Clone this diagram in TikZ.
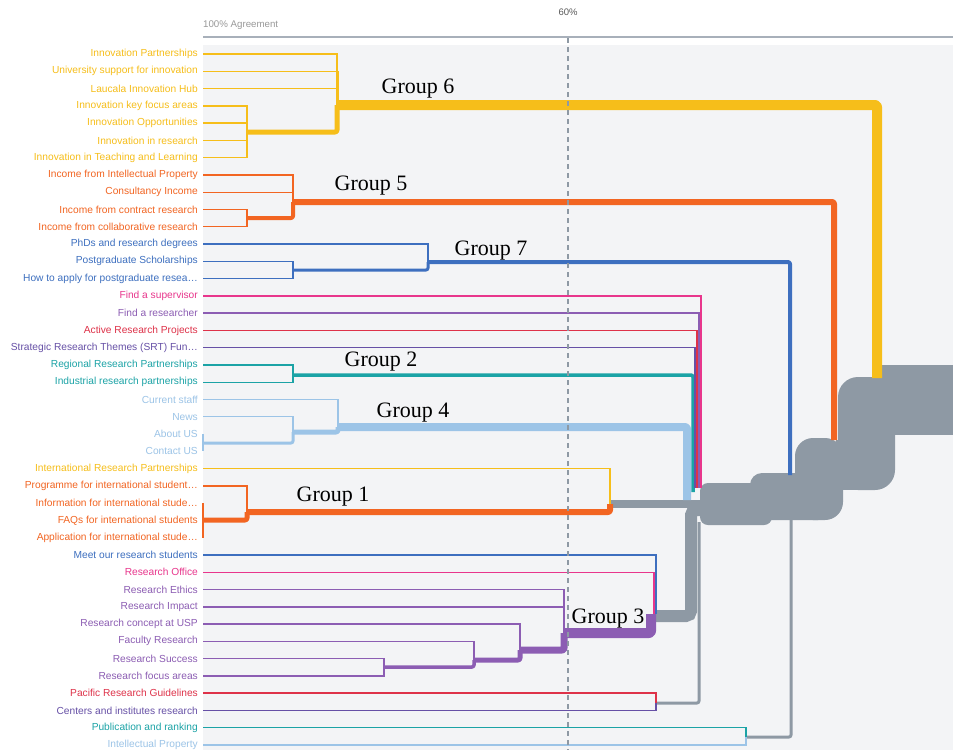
\documentclass[tikz,border=0pt]{standalone}
\usepackage{fontspec}
\setmainfont{Liberation Serif}
\setsansfont{Liberation Sans}
\usetikzlibrary{calc}
\definecolor{gyel}{HTML}{F6BE1A}
\definecolor{gorg}{HTML}{F26522}
\definecolor{gblu}{HTML}{3D6FBF}
\definecolor{gpnk}{HTML}{E8368C}
\definecolor{gpur}{HTML}{8C5DB3}
\definecolor{gred}{HTML}{DE3249}
\definecolor{gind}{HTML}{6650A6}
\definecolor{gtea}{HTML}{1BA3A6}
\definecolor{glbl}{HTML}{9CC4E7}
\definecolor{gry}{HTML}{8E99A4}
\definecolor{panel}{HTML}{F3F4F6}
\definecolor{axisc}{HTML}{A8B0BA}

\begin{document}
\begin{tikzpicture}[x=1pt, y=-1pt,
  leaf/.style={anchor=east, inner xsep=5pt, inner ysep=1pt, font=\sffamily\fontsize{10.2}{12}\selectfont},
  twig/.style={line width=1.4pt},
  lnk/.style={rounded corners=2pt, line join=round},
  grp/.style={inner sep=0pt, font=\fontsize{22}{24}\selectfont}]
  \useasboundingbox (0,0) rectangle (953,750);
  % panel and axis
  \fill[white] (0,0) rectangle (953,750);
  \fill[panel] (203,45) rectangle (953,750);
  \draw[axisc, line width=1.5pt] (203,37) -- (953,37);
  \node[anchor=west, inner sep=0pt, text=gray!80, font=\sffamily\fontsize{9.7}{11}\selectfont] (agree) at (203,25) {100\% Agreement};
  \node[inner sep=0pt, text=black!65, font=\sffamily\fontsize{9.5}{11}\selectfont] (sixty) at (568,12) {60\%};
  % leaves
  \foreach \i/\txt/\col in {
    1/Innovation Partnerships/gyel, 2/University support for innovation/gyel,
    3/Laucala Innovation Hub/gyel, 4/Innovation key focus areas/gyel,
    5/Innovation Opportunities/gyel, 6/Innovation in research/gyel,
    7/Innovation in Teaching and Learning/gyel, 8/Income from Intellectual Property/gorg,
    9/Consultancy Income/gorg, 10/Income from contract research/gorg,
    11/Income from collaborative research/gorg, 12/PhDs and research degrees/gblu,
    13/Postgraduate Scholarships/gblu, 14/How to apply for postgraduate resea\dots/gblu,
    15/Find a supervisor/gpnk, 16/Find a researcher/gpur,
    17/Active Research Projects/gred, 18/Strategic Research Themes (SRT) Fun\dots/gind,
    19/Regional Research Partnerships/gtea, 20/Industrial research partnerships/gtea,
    21/Current staff/glbl, 22/News/glbl, 23/About US/glbl, 24/Contact US/glbl,
    25/International Research Partnerships/gyel, 26/Programme for international student\dots/gorg,
    27/Information for international stude\dots/gorg, 28/FAQs for international students/gorg,
    29/Application for international stude\dots/gorg, 30/Meet our research students/gblu,
    31/Research Office/gpnk, 32/Research Ethics/gpur, 33/Research Impact/gpur,
    34/Research concept at USP/gpur, 35/Faculty Research/gpur, 36/Research Success/gpur,
    37/Research focus areas/gpur, 38/Pacific Research Guidelines/gred,
    39/Centers and institutes research/gind, 40/Publication and ranking/gtea,
    41/Intellectual Property/glbl}{
    \node[leaf, text=\col] (l\i) at (203,{54+(\i-1)*17.275}) {\txt};
  }
  % merge points
  \coordinate (g6a) at (247,132); \coordinate (g6b) at (337,71);
  \coordinate (g6c) at (337,105); \coordinate (f6) at (877,378);
  \coordinate (g5a) at (247,218); \coordinate (g5b) at (293,202);
  \coordinate (f5) at (834,440);
  \coordinate (g7a) at (293,270); \coordinate (g7b) at (428,262);
  \coordinate (f7) at (790,475);
  \coordinate (b15) at (701,488); \coordinate (b16) at (699,488);
  \coordinate (b17) at (697,488); \coordinate (b18) at (695,488);
  \coordinate (g2a) at (293,375); \coordinate (f2) at (693,492);
  \coordinate (g4a) at (204,443); \coordinate (g4b) at (293,432);
  \coordinate (g4c) at (338,427); \coordinate (f4) at (687,500);
  \coordinate (g1a) at (204,520); \coordinate (g1b) at (247,512);
  \coordinate (g1c) at (610,504); \coordinate (f1) at (703,504);
  \coordinate (g3a) at (384,667); \coordinate (g3b) at (474,660);
  \coordinate (g3c) at (520,650); \coordinate (g3d) at (564,598);
  \coordinate (g3e) at (564,633); \coordinate (g3f) at (651,614);
  \coordinate (g3g) at (656,614); \coordinate (g3h) at (654,614);
  \coordinate (t3) at (656,616); \coordinate (t3top) at (691,510);
  \coordinate (t3end) at (705,510);
  \coordinate (g8) at (656,703); \coordinate (t8) at (699,522);
  \coordinate (g9) at (746,737); \coordinate (t9) at (791,520);
  % grey trunk
  \fill[gry, rounded corners=8pt] (700,483) rectangle (772,525);
  \fill[gry, rounded corners=12pt] (750,473) rectangle (830,520);
  \fill[gry, rounded corners=18pt] (795,438) rectangle (843,520);
  \fill[gry, rounded corners=20pt] (838,377) rectangle (895,490);
  \fill[gry] (836,440) rectangle (862,490);
  \fill[gry] (880,365) rectangle (953,435);
  \draw[gry, line width=8pt] (g1c) -- (f1);
  \draw[gry, line width=12pt, rounded corners=5pt] (t3) -| (t3top) -- (t3end);
  \draw[gry, line width=3pt, lnk] (g8) -| (t8);
  \draw[gry, line width=3pt, lnk] (g9) -| (t9);
  % Group 6
  \foreach \i in {4,...,7} \draw[twig, gyel] (l\i.east) -| (g6a);
  \foreach \i in {1,2,3} \draw[twig, gyel] (l\i.east) -| (g6b);
  \draw[gyel, line width=3pt] (g6b) -- (g6c);
  \draw[gyel, line width=5pt, lnk] (g6a) -| (g6c);
  \draw[gyel, line width=10pt, lnk] (g6c) -| (f6);
  % Group 5
  \foreach \i in {10,11} \draw[twig, gorg] (l\i.east) -| (g5a);
  \foreach \i in {8,9} \draw[twig, gorg] (l\i.east) -| (g5b);
  \draw[gorg, line width=4pt, lnk] (g5a) -| (g5b);
  \draw[gorg, line width=6pt, lnk] (g5b) -| (f5);
  % Group 7
  \foreach \i in {13,14} \draw[twig, gblu] (l\i.east) -| (g7a);
  \draw[twig, gblu] (l12.east) -| (g7b);
  \draw[gblu, line width=3pt, lnk] (g7a) -| (g7b);
  \draw[gblu, line width=4pt, lnk] (g7b) -| (f7);
  % Group 4
  \draw[glbl, line width=2pt] (l23.east) -- (l24.east);
  \draw[glbl, line width=3pt, lnk] (g4a) -| (g4b);
  \draw[twig, glbl] (l22.east) -| (g4b);
  \draw[twig, glbl] (l21.east) -| (g4c);
  \draw[glbl, line width=5pt, lnk] (g4b) -| (g4c);
  \draw[glbl, line width=8pt, lnk] (g4c) -| (f4);
  % Group 2
  \foreach \i in {19,20} \draw[twig, gtea] (l\i.east) -| (g2a);
  \draw[gtea, line width=3.5pt, lnk] (g2a) -| (f2);
  % single leaves into the bundle
  \foreach \i/\c in {18/gind,17/gred,16/gpur,15/gpnk} \draw[twig, \c] (l\i.east) -| (b\i);
  % Group 1
  \draw[gorg, line width=2pt] (l27.east) -- (l29.east);
  \draw[twig, gorg] (l26.east) -| (g1b);
  \draw[twig, gyel] (l25.east) -| (g1c);
  \draw[gorg, line width=5pt, lnk] (g1a) -| (g1b);
  \draw[gorg, line width=6pt, lnk] (g1b) -| (g1c);
  % Group 3
  \foreach \i in {36,37} \draw[twig, gpur] (l\i.east) -| (g3a);
  \draw[twig, gpur] (l35.east) -| (g3b);
  \draw[twig, gpur] (l34.east) -| (g3c);
  \foreach \i in {32,33} \draw[twig, gpur] (l\i.east) -| (g3d);
  \draw[gpur, line width=3.5pt, lnk] (g3a) -| (g3b);
  \draw[gpur, line width=5pt, lnk] (g3b) -| (g3c);
  \draw[gpur, line width=2pt] (g3d) -- (g3e);
  \draw[gpur, line width=7pt, lnk] (g3c) -| (g3e);
  \draw[gpur, line width=10pt, lnk] (g3e) -| (g3f);
  \draw[twig, gblu] (l30.east) -| (g3g);
  \draw[twig, gpnk] (l31.east) -| (g3h);
  % last pairs
  \draw[twig, gred] (l38.east) -| (g8);
  \draw[twig, gind] (l39.east) -| (g8);
  \draw[twig, gtea] (l40.east) -| (g9);
  \draw[twig, glbl] (l41.east) -| (g9);
  % 60% cut
  \draw[gry, line width=1.5pt, dash pattern=on 5pt off 4pt] (sixty |- 0,38) -- (sixty |- 0,750);
  % group labels
  \node[grp] (n6) at (418,89) {Group 6};
  \node[grp] (n5) at (371,186) {Group 5};
  \node[grp] (n7) at (491,251) {Group 7};
  \node[grp] (n2) at (381,362) {Group 2};
  \node[grp] (n4) at (413,413) {Group 4};
  \node[grp] (n1) at (333,497) {Group 1};
  \node[grp] (n3) at (608,619) {Group 3};
\end{tikzpicture}
\end{document}
